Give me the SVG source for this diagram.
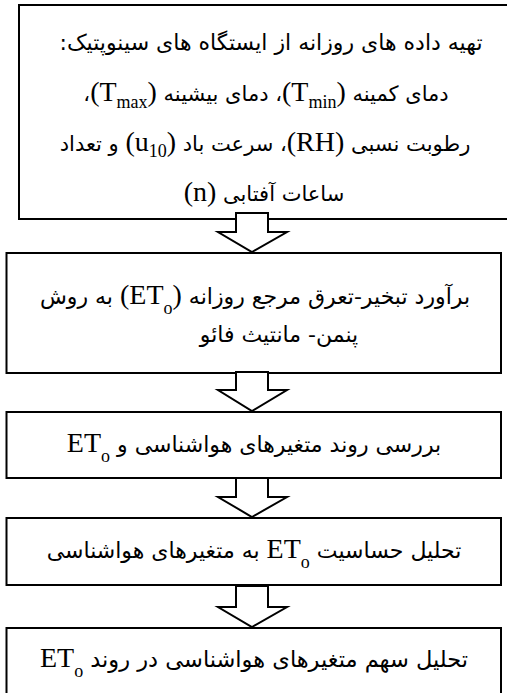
<svg xmlns="http://www.w3.org/2000/svg" width="507" height="693" viewBox="0 0 507 693">
<style>
.box{fill:#fff;stroke:#000;stroke-width:2}
.arr{fill:#fff;stroke:#000;stroke-width:2;stroke-linejoin:miter}
.fa{font-family:'DejaVu Sans',sans-serif;font-size:22px;text-anchor:middle;direction:rtl;fill:#000}
.fa1{font-size:21px}
.en{font-family:'Liberation Serif',serif;font-size:28px}
.sub{font-family:'Liberation Serif',serif;font-size:18px}
.so{font-family:'Liberation Serif',serif;font-size:18px}
</style>
<rect width="507" height="693" fill="#fff"/>
<g id="n1">
<rect class="box" x="19" y="5" width="496" height="214"/>
<text class="fa" x="271" y="50" direction="rtl">تهیه داده های روزانه از ایستگاه های سینوپتیک:</text>
<text class="fa fa1" x="266" y="101" direction="rtl">دمای کمینه <tspan class="en">(T</tspan><tspan class="sub" baseline-shift="-7">min</tspan><tspan class="en">)</tspan>، دمای بیشینه <tspan class="en">(T</tspan><tspan class="sub" baseline-shift="-7">max</tspan><tspan class="en">)</tspan>،</text>
<text class="fa fa1" x="265" y="151" direction="rtl">رطوبت نسبی <tspan class="en">(RH)</tspan>، سرعت باد <tspan class="en">(u</tspan><tspan class="sub" baseline-shift="-6">10</tspan><tspan class="en">)</tspan> و تعداد</text>
<text class="fa fa1" x="264" y="201" direction="rtl">ساعات آفتابی <tspan class="en">(n)</tspan></text>
</g>
<g id="n2">
<rect class="box" x="6.5" y="253" width="494.5" height="120"/>
<text class="fa" x="255" y="304" direction="rtl">برآورد تبخیر-تعرق مرجع روزانه <tspan class="en">(ET</tspan><tspan class="so" baseline-shift="-10">o</tspan><tspan class="en">)</tspan> به روش</text>
<text class="fa" x="279" y="342" direction="rtl">پنمن- مانتیث فائو</text>
</g>
<g id="n3">
<rect class="box" x="6.5" y="412" width="494.5" height="66"/>
<text class="fa" x="254" y="452" direction="rtl">بررسی روند متغیرهای هواشناسی و <tspan class="en">ET</tspan><tspan class="so" baseline-shift="-10">o</tspan></text>
</g>
<g id="n4">
<rect class="box" x="6.5" y="518" width="494.5" height="67"/>
<text class="fa" x="254" y="558" direction="rtl">تحلیل حساسیت <tspan class="en">ET</tspan><tspan class="so" baseline-shift="-10">o</tspan> به متغیرهای هواشناسی</text>
</g>
<g id="n5">
<rect class="box" x="6.5" y="628" width="494.5" height="80"/>
<text class="fa" x="254" y="667" direction="rtl" style="font-size:22.5px">تحلیل سهم متغیرهای هواشناسی در روند  <tspan class="en">ET</tspan><tspan class="so" baseline-shift="-10">o</tspan></text>
</g>
<g id="connectors">
<polygon class="arr" points="236,213 268,213 268,232 287,232 252,252 218,232 236,232"/>
<polygon class="arr" points="236,372 268,372 268,390 287,390 252,411 218,390 236,390"/>
<polygon class="arr" points="236,478 268,478 268,497 287,497 252,517 218,497 236,497"/>
<polygon class="arr" points="236,586 268,586 268,607 287,607 252,627 218,607 236,607"/>
</g>
</svg>
